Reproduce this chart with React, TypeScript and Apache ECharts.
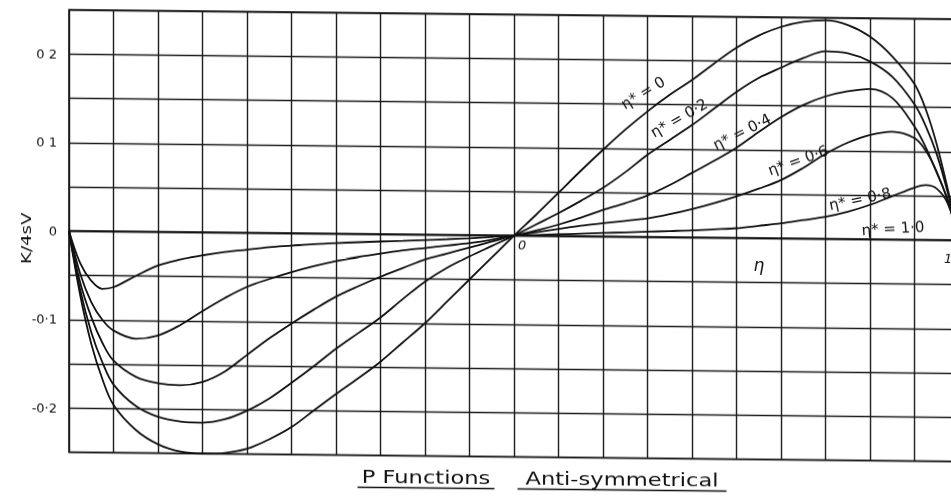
import React, { useEffect, useRef } from "react";
import * as echarts from "echarts";

// ---- data ----
const eta = [
  -1, -0.975, -0.95, -0.925,
  -0.9, -0.85, -0.8, -0.75, -0.7, -0.65, -0.6, -0.55, -0.5, -0.45, -0.4, -0.35, -0.3, -0.25, -0.2, -0.15, -0.1, -0.05, 0,
  0.05, 0.1, 0.15, 0.2, 0.25, 0.3, 0.35, 0.4, 0.45, 0.5, 0.55, 0.6, 0.65, 0.7, 0.75, 0.8, 0.85, 0.9,
  0.925, 0.95, 0.975, 1,
];

const kStar00 = [
  0, -0.072, -0.127, -0.167,
  -0.196, -0.224, -0.24, -0.248, -0.25, -0.249, -0.244, -0.233, -0.219, -0.2, -0.181, -0.163, -0.144, -0.122, -0.1, -0.075, -0.05, -0.025, 0,
  0.024, 0.049, 0.074, 0.098, 0.121, 0.142, 0.161, 0.178, 0.197, 0.215, 0.229, 0.239, 0.245, 0.247, 0.242, 0.229, 0.207, 0.176,
  0.148, 0.108, 0.057, 0,
];
const kStar02 = [
  0, -0.066, -0.114, -0.148,
  -0.173, -0.197, -0.209, -0.214, -0.215, -0.211, -0.201, -0.187, -0.169, -0.15, -0.13, -0.112, -0.094, -0.073, -0.053, -0.037, -0.024, -0.012, 0,
  0.013, 0.026, 0.04, 0.055, 0.073, 0.093, 0.11, 0.127, 0.146, 0.165, 0.181, 0.193, 0.204, 0.212, 0.21, 0.201, 0.184, 0.153,
  0.129, 0.097, 0.053, 0,
];
const kStar04 = [
  0, -0.058, -0.097, -0.126,
  -0.146, -0.164, -0.171, -0.173, -0.169, -0.157, -0.138, -0.119, -0.102, -0.086, -0.071, -0.059, -0.048, -0.038, -0.028, -0.021, -0.014, -0.007, 0,
  0.006, 0.013, 0.021, 0.03, 0.038, 0.047, 0.059, 0.073, 0.087, 0.102, 0.12, 0.137, 0.151, 0.161, 0.167, 0.17, 0.16, 0.128,
  0.105, 0.076, 0.045, 0,
];
const kStar06 = [
  0, -0.048, -0.08, -0.1,
  -0.112, -0.121, -0.117, -0.105, -0.089, -0.074, -0.061, -0.052, -0.044, -0.037, -0.031, -0.026, -0.022, -0.018, -0.015, -0.012, -0.009, -0.005, 0,
  0.004, 0.008, 0.012, 0.015, 0.018, 0.021, 0.026, 0.032, 0.039, 0.047, 0.056, 0.066, 0.08, 0.096, 0.109, 0.118, 0.122, 0.115,
  0.101, 0.077, 0.044, 0,
];
const kStar08 = [
  0, -0.036, -0.056, -0.065,
  -0.063, -0.05, -0.038, -0.031, -0.026, -0.022, -0.019, -0.016, -0.014, -0.012, -0.0105, -0.0093, -0.0082, -0.0072, -0.006, -0.0048, -0.0035, -0.0018, 0,
  0.001, 0.002, 0.003, 0.004, 0.005, 0.006, 0.007, 0.008, 0.0095, 0.011, 0.014, 0.017, 0.021, 0.025, 0.031, 0.039, 0.049, 0.059,
  0.062, 0.058, 0.041, 0,
];
const kStar10 = [
  0, 0, 0, 0,
  0, 0, 0, 0, 0, 0, 0, 0, 0, 0, 0, 0, 0, 0, 0, 0, 0, 0, 0,
  0, 0, 0, 0, 0, 0, 0, 0, 0, 0, 0, 0, 0, 0, 0, 0, 0, 0,
  0, 0, 0, 0,
];

const seriesNames = ["η* = 0", "η* = 0·2", "η* = 0·4", "η* = 0·6", "η* = 0·8", "η* = 1·0"];
const seriesValues = [kStar00, kStar02, kStar04, kStar06, kStar08, kStar10];

const yTickValues = [0.2, 0.1, 0, -0.1, -0.2];
const yTickLabels = ["0 2", "0 1", "0", "-0·1", "-0·2"];

const xTickValues = [0, 1];
const xTickLabels = ["0", "1"];

const xAxisName = "η";
const yAxisName = "K/4sV";
const titleParts = ["P Functions", "Anti-symmetrical"];

// ---- layout / style (not data) ----
const INK = "#111111";
const FONT = "DejaVu Sans";

const curveLabelPlacement = [
  { x: 643, y: 86, rot: 32 },
  { x: 679, y: 111, rot: 30 },
  { x: 742, y: 124, rot: 27 },
  { x: 798, y: 152, rot: 20 },
  { x: 860, y: 190, rot: 12 },
  { x: 893, y: 219, rot: 4 },
];

export default function App() {
  const ref = useRef<HTMLDivElement>(null);

  useEffect(() => {
    if (!ref.current) return;
    const chart = echarts.init(ref.current, null, { renderer: "svg" });

    const series = seriesNames.map((name, s) => ({
      name,
      type: "line",
      data: eta.map((x, i) => [x, seriesValues[s][i]]),
      showSymbol: false,
      smooth: 0.35,
      lineStyle: { color: INK, width: 1.8 },
      z: 3,
    }));

    chart.setOption({
      animation: false,
      backgroundColor: "#ffffff",
      grid: {
        left: 69,
        right: 1,
        top: 9,
        bottom: 47.5,
        show: true,
        borderColor: INK,
        borderWidth: 1.6,
        backgroundColor: "transparent",
      },
      xAxis: {
        type: "value",
        min: -1,
        max: 1,
        interval: 0.1,
        axisLine: { show: false },
        axisTick: { show: false },
        axisLabel: { show: false },
        splitLine: { show: true, lineStyle: { color: "#1c1c1c", width: 1.4 } },
      },
      yAxis: {
        type: "value",
        min: -0.25,
        max: 0.25,
        interval: 0.05,
        axisLine: { show: false },
        axisTick: { show: false },
        axisLabel: {
          show: true,
          margin: 12,
          color: INK,
          fontSize: 13,
          fontFamily: FONT,
          formatter: (v: number) => {
            const idx = yTickValues.findIndex((t) => Math.abs(t - v) < 1e-6);
            return idx >= 0 ? yTickLabels[idx] : "";
          },
        },
        splitLine: { show: true, lineStyle: { color: "#1c1c1c", width: 1.4 } },
      },
      series,
    });

    const graphics: any[] = [];

    // x tick labels positioned through the axis scale
    xTickValues.forEach((v, i) => {
      const p = chart.convertToPixel({ gridIndex: 0 }, [v, 0]) as number[];
      const isEnd = v === 1;
      graphics.push({
        type: "text",
        x: p[0] + (isEnd ? -11 : 4),
        y: p[1] + (isEnd ? 18 : 9),
        style: {
          text: xTickLabels[i],
          fill: INK,
          font: `italic 13px "${FONT}"`,
          align: isEnd ? "center" : "left",
          verticalAlign: "middle",
        },
      });
    });

    // x axis name
    const pName = chart.convertToPixel({ gridIndex: 0 }, [0.55, 0]) as number[];
    graphics.push({
      type: "text",
      x: pName[0],
      y: pName[1] + 27,
      style: {
        text: xAxisName,
        fill: INK,
        font: `italic 17px "${FONT}"`,
        align: "center",
        verticalAlign: "middle",
      },
    });

    // y axis name, rotated
    graphics.push({
      type: "text",
      x: 26,
      y: 238,
      rotation: Math.PI / 2,
      scaleX: 1.3,
      style: {
        text: yAxisName,
        fill: INK,
        font: `14px "${FONT}"`,
        align: "center",
        verticalAlign: "middle",
      },
    });

    // curve labels
    seriesNames.forEach((name, i) => {
      const pl = curveLabelPlacement[i];
      graphics.push({
        type: "text",
        x: pl.x,
        y: pl.y,
        rotation: (pl.rot * Math.PI) / 180,
        style: {
          text: name,
          fill: INK,
          font: `15px "${FONT}"`,
          align: "center",
          verticalAlign: "middle",
        },
        z: 10,
      });
    });

    // title with underlines
    const titleCenters = [426, 622];
    const titleWidths = [137, 209];
    titleParts.forEach((t, i) => {
      graphics.push({
        type: "text",
        x: titleCenters[i],
        y: 473,
        scaleX: 1.33,
        style: {
          text: t,
          fill: INK,
          font: `17px "${FONT}"`,
          align: "center",
          verticalAlign: "middle",
        },
      });
      graphics.push({
        type: "line",
        shape: {
          x1: titleCenters[i] - titleWidths[i] / 2,
          y1: 483.5,
          x2: titleCenters[i] + titleWidths[i] / 2,
          y2: 483.5,
        },
        style: { stroke: INK, lineWidth: 1.3 },
      });
    });

    chart.setOption({ graphic: graphics });

    return () => chart.dispose();
  }, []);

  return (
    <div
      ref={ref}
      style={{
        position: "fixed",
        left: 0,
        top: 0,
        width: 960,
        height: 499,
        background: "#fff",
        transform: "skewY(0.6deg)",
        transformOrigin: "0 0",
      }}
    />
  );
}
